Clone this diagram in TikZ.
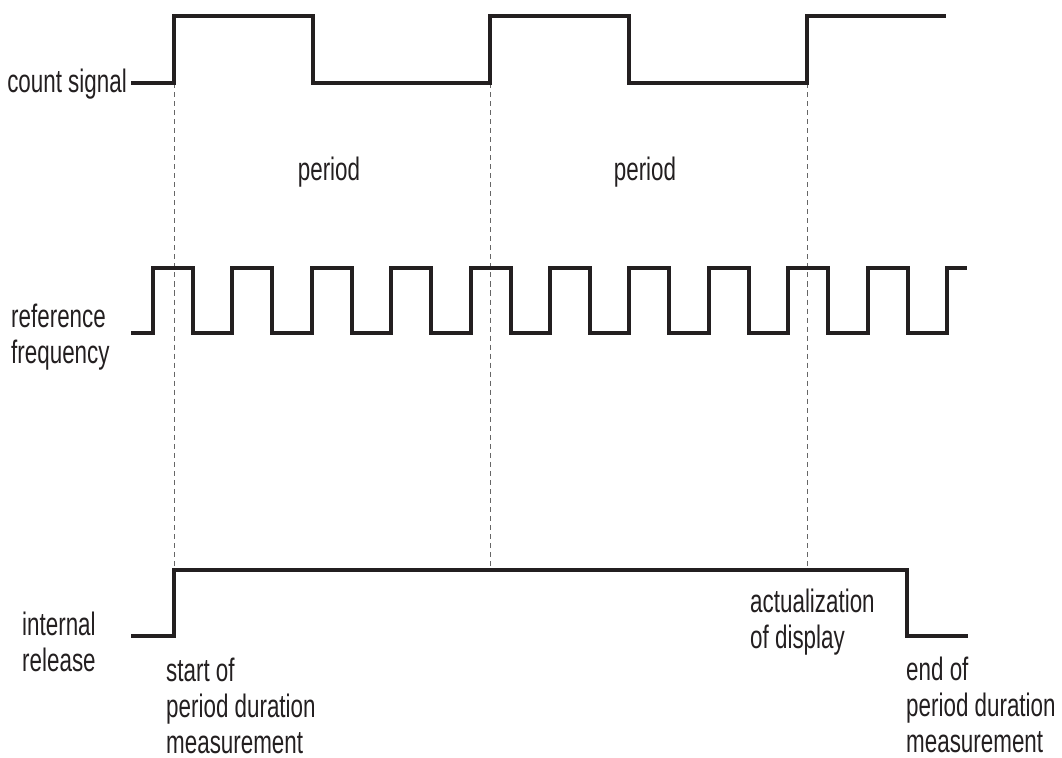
\documentclass[tikz,border=0pt]{standalone}
\usepackage{fontspec}
\setmainfont{Liberation Sans}[FakeStretch=0.69]
\definecolor{ink}{HTML}{231F20}
\definecolor{guide}{HTML}{666666}
\begin{document}
\begin{tikzpicture}[x=0.03cm, y=-0.03cm,
  wave/.style={draw=ink, line width=3.4pt, line join=miter},
  guideline/.style={draw=guide, line width=0.7pt, dash pattern=on 4.3pt off 3.4pt},
  lbl/.style={inner sep=0pt, align=left, text=ink, font=\fontsize{27.7}{30.7}\selectfont}]
  \useasboundingbox (0,0) rectangle (1062,758);

  % instants of the count signal edges
  \coordinate (t0) at (174,83);
  \coordinate (t1) at (490,83);
  \coordinate (t2) at (807,83);
  \coordinate (r0) at (174,570);
  \coordinate (r1) at (490,570);
  \coordinate (r2) at (807,570);
  \draw[guideline] (t0) -- (r0) (t1) -- (r1) (t2) -- (r2);

  % count signal
  \draw[wave] (131,83) -| (174,16) -| (313,83) -| (490,16) -| (629,83) -| (807,16) -- (946,16);

  % reference frequency
  \draw[wave] (131,333) foreach \k in {0,...,9} {
    -| ({153+79.4*\k},268) -| ({193+79.4*\k},333) } -| (947,268) -- (967,268);

  % internal release
  \draw[wave] (131,636) -| (174,570) -| (907,636) -- (968,636);

  % labels (base = baseline of the last line)
  \node[lbl, anchor=base east] (count) at (127,93) {count signal};
  \node[lbl, anchor=base] (period1) at (329,180) {period};
  \node[lbl, anchor=base] (period2) at (645,180) {period};
  \node[lbl, anchor=base west] (reffreq) at (11,363) {reference\\frequency};
  \node[lbl, anchor=base west] (release) at (22,671) {internal\\release};
  \node[lbl, anchor=base west] (start) at (166,753) {start of\\period duration\\measurement};
  \node[lbl, anchor=base west] (display) at (750,648) {actualization\\of display};
  \node[lbl, anchor=base west] (stop) at (906,752) {end of\\period duration\\measurement};
\end{tikzpicture}
\end{document}
